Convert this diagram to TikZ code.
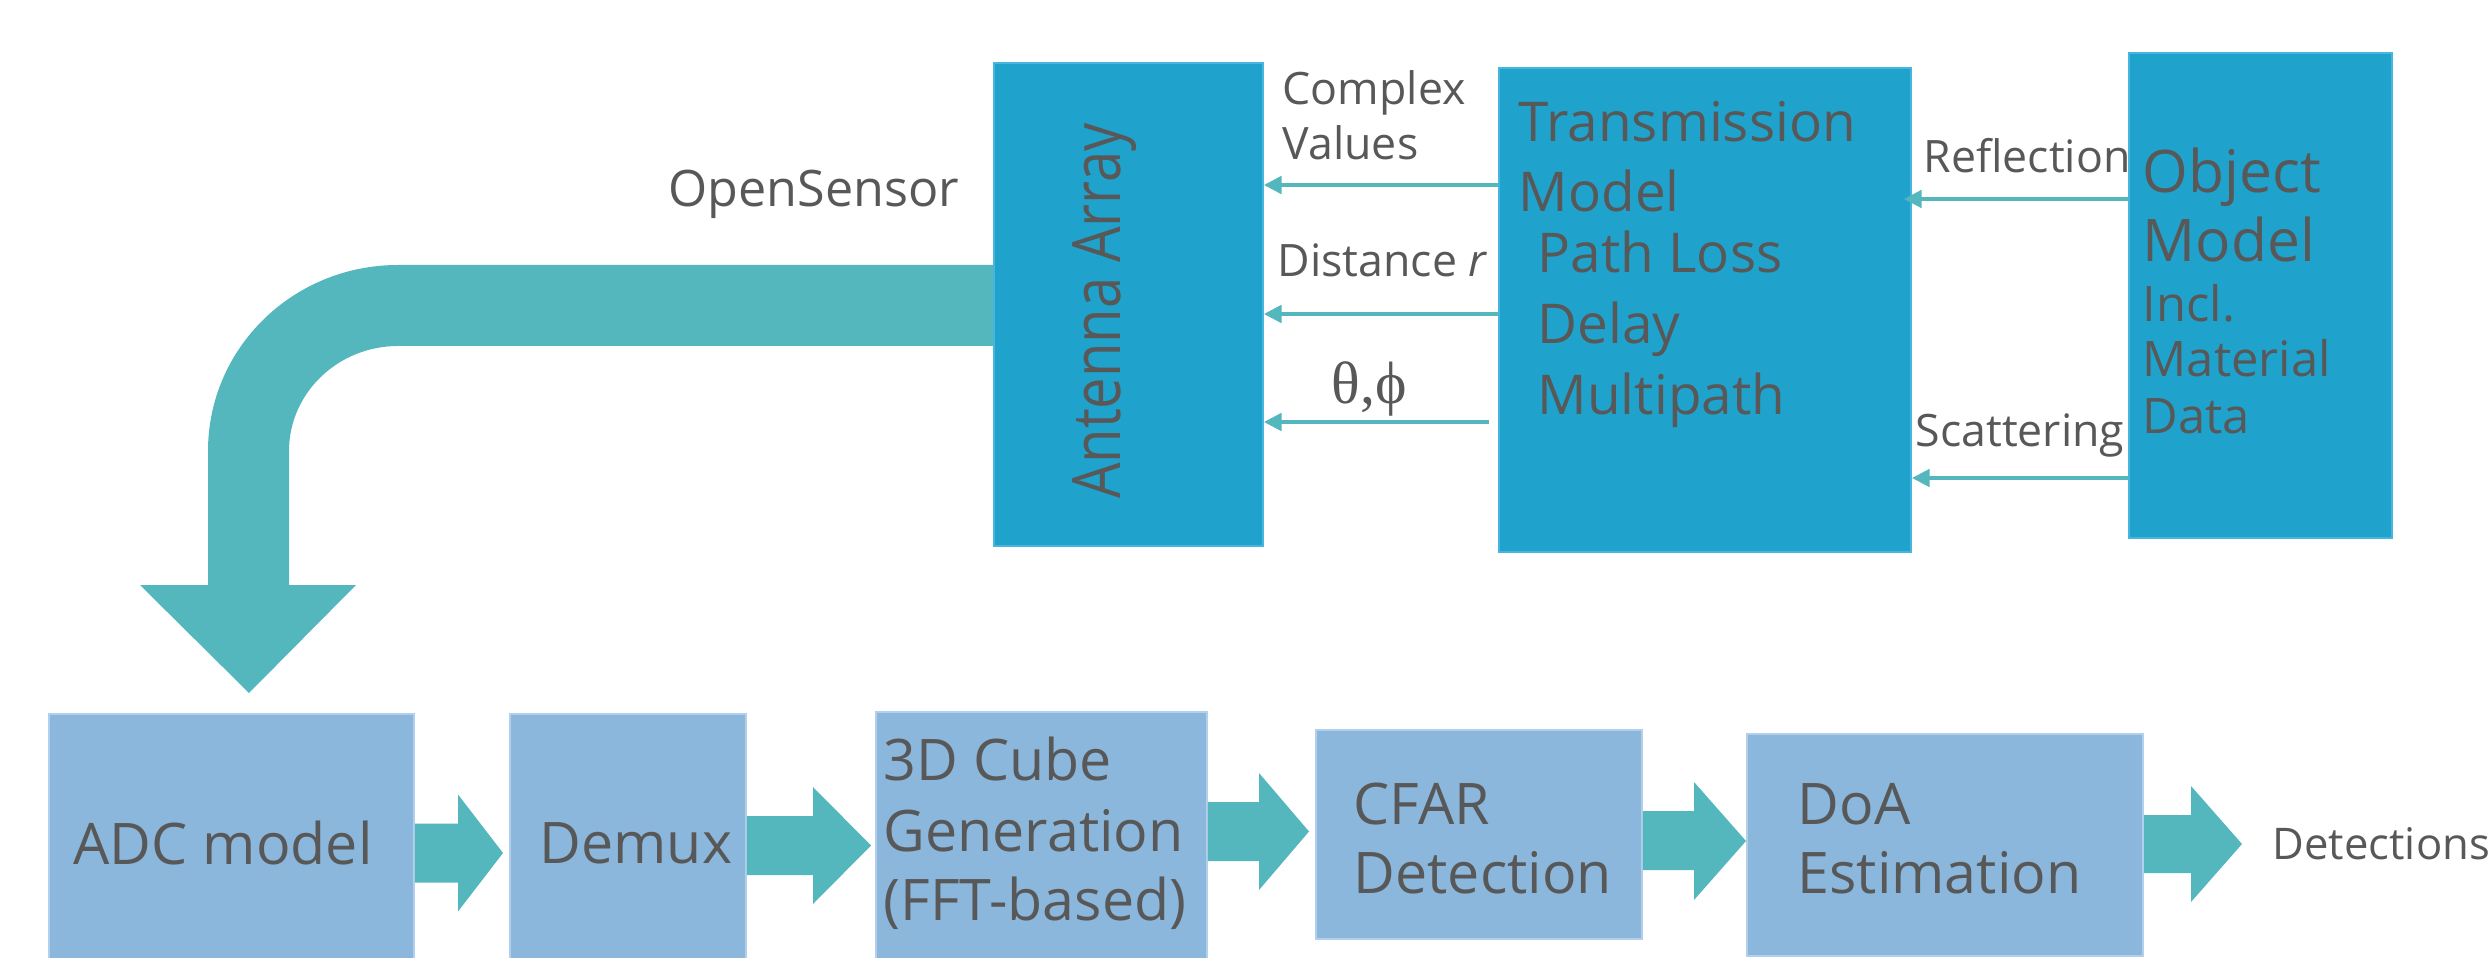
\documentclass[tikz,border=0pt]{standalone}
\usepackage{fontspec}
\setmainfont{Open Sans}
\newfontfamily\symbolserif{Liberation Serif}
\usepackage{graphicx}
\usetikzlibrary{arrows.meta}

\definecolor{topblue}{RGB}{31,163,205}
\definecolor{topedge}{RGB}{70,182,222}
\definecolor{botblue}{RGB}{139,183,220}
\definecolor{botedge}{RGB}{178,208,235}
\definecolor{flowteal}{RGB}{83,183,189}
\definecolor{textgray}{RGB}{88,88,88}

\begin{document}
\begin{tikzpicture}[x=0.01cm, y=-0.01cm,
  topbox/.style={draw=topedge, line width=0.5pt, fill=topblue, inner sep=0pt, anchor=north west},
  botbox/.style={draw=botedge, line width=0.5pt, fill=botblue, inner sep=0pt, anchor=north west},
  txt/.style={text=textgray, inner sep=0pt, anchor=base west},
  small/.style={txt, font=\fontsize{12.7}{15}\selectfont},
  mid/.style={txt, font=\fontsize{13.9}{16}\selectfont},
  big/.style={txt, font=\fontsize{15.6}{18}\selectfont},
  bottxt/.style={txt, font=\fontsize{16.3}{19}\selectfont},
  signal/.style={draw=flowteal, line width=0.9pt, -{Triangle[length=5pt,width=5pt]}},
  fat/.style={fill=flowteal}]

\useasboundingbox (0,0) rectangle (2488,958);

% upper row: sensor model blocks
\node[topbox, minimum width=2.69cm, minimum height=4.83cm] (ant) at (993,62) {};
\node[topbox, minimum width=4.12cm, minimum height=4.84cm] (trans) at (1498,67) {};
\node[topbox, minimum width=2.63cm, minimum height=4.85cm] (obj) at (2128,52) {};

% lower row: signal processing chain
\node[botbox, minimum width=3.65cm, minimum height=2.50cm] (adc) at (48,713) {};
\node[botbox, minimum width=2.36cm, minimum height=2.50cm] (demux) at (509,713) {};
\node[botbox, minimum width=3.31cm, minimum height=2.52cm] (cube) at (875,711) {};
\node[botbox, minimum width=3.26cm, minimum height=2.09cm] (cfar) at (1315,729) {};
\node[botbox, minimum width=3.96cm, minimum height=2.22cm] (doa) at (1746,733) {};

% block texts
\node[text=textgray, inner sep=0pt, anchor=base, rotate=90, font=\fontsize{19}{22}\selectfont]
  (antlabel) at (1120,311) {\scalebox{0.84}[1]{Antenna Array}};

\node[big] (tm1) at (1518,142) {Transmission};
\node[big] (tm2) at (1518,212) {Model};
\node[big] (tm3) at (1537,273) {Path Loss};
\node[big] (tm4) at (1537,344) {Delay};
\node[big] (tm5) at (1537,415) {Multipath};

\node[txt, font=\fontsize{16.7}{19}\selectfont] (om1) at (2142,193) {Object};
\node[txt, font=\fontsize{16.7}{19}\selectfont] (om2) at (2142,262) {Model};
\node[mid] (om3) at (2142,322) {Incl.};
\node[mid] (om4) at (2142,377) {Material};
\node[mid] (om5) at (2142,433) {Data};

\node[txt, font=\fontsize{14.3}{17}\selectfont] (os) at (668,207) {OpenSensor};

\node[bottxt] (adclabel) at (73,864) {ADC model};
\node[bottxt] (demuxlabel) at (539,863) {Demux};
\node[bottxt] (cube1) at (883,780) {3D Cube};
\node[bottxt] (cube2) at (883,851) {Generation};
\node[bottxt] (cube3) at (883,920) {(FFT-based)};
\node[bottxt] (cfar1) at (1353,824) {CFAR};
\node[bottxt] (cfar2) at (1353,893) {Detection};
\node[bottxt] (doa1) at (1797,824) {DoA};
\node[bottxt] (doa2) at (1797,893) {Estimation};
\node[txt, font=\fontsize{12.4}{15}\selectfont] (det) at (2272,859) {Detections};

% edge labels
\node[small] (cv1) at (1282,105) {Complex};
\node[small] (cv2) at (1282,160) {Values};
\node[small] (dist) at (1277,277) {Distance \textit{r}};
\node[txt, font=\symbolserif\fontsize{17}{20}\selectfont] (angles) at (1331,403) {θ,ϕ};
\node[small] (refl) at (1923,173) {Reflection};
\node[small] (scat) at (1915,447) {Scattering};

% thin signal arrows
\draw[signal] (trans.west |- 0,185) -- (ant.east |- 0,185);
\draw[signal] (trans.west |- 0,314) -- (ant.east |- 0,314);
\draw[signal, shorten <=0.9mm] (trans.west |- 0,422) -- (ant.east |- 0,422);
\draw[signal, shorten >=-0.8mm] (obj.west |- 0,199) -- (trans.east |- 0,199);
\draw[signal] (obj.west |- 0,478) -- (trans.east |- 0,478);

% bent flow arrow from the antenna array down to the ADC
\fill[fat] (ant.west |- 0,265) -- (398,265)
  .. controls (293,265) and (208,348) .. (208,451)
  -- (208,585) -- (140,585) -- (249,693) -- (356,585) -- (289,585) -- (289,451)
  .. controls (289,393) and (338,346) .. (398,346)
  -- (ant.west |- 0,346) -- cycle;

% block arrows of the processing chain
\fill[fat] (adc.east |- 0,823.5) -- (458,823.5) -- (458,794.5) -- (503,853)
  -- (458,911.5) -- (458,882.5) -- (adc.east |- 0,882.5) -- cycle;
\fill[fat] (demux.east |- 0,816) -- (813,816) -- (813,787) -- (871,845.5)
  -- (813,904) -- (813,875) -- (demux.east |- 0,875) -- cycle;
\fill[fat] (cube.east |- 0,802) -- (1259,802) -- (1259,773) -- (1309,831.5)
  -- (1259,890) -- (1259,861) -- (cube.east |- 0,861) -- cycle;
\fill[fat] (cfar.east |- 0,811) -- (1694,811) -- (1694,782) -- (doa.west |- 0,841)
  -- (1694,900) -- (1694,870) -- (cfar.east |- 0,870) -- cycle;
\fill[fat] (doa.east |- 0,815) -- (2191,815) -- (2191,786) -- (2242,844)
  -- (2191,902) -- (2191,873) -- (doa.east |- 0,873) -- cycle;

\end{tikzpicture}
\end{document}
